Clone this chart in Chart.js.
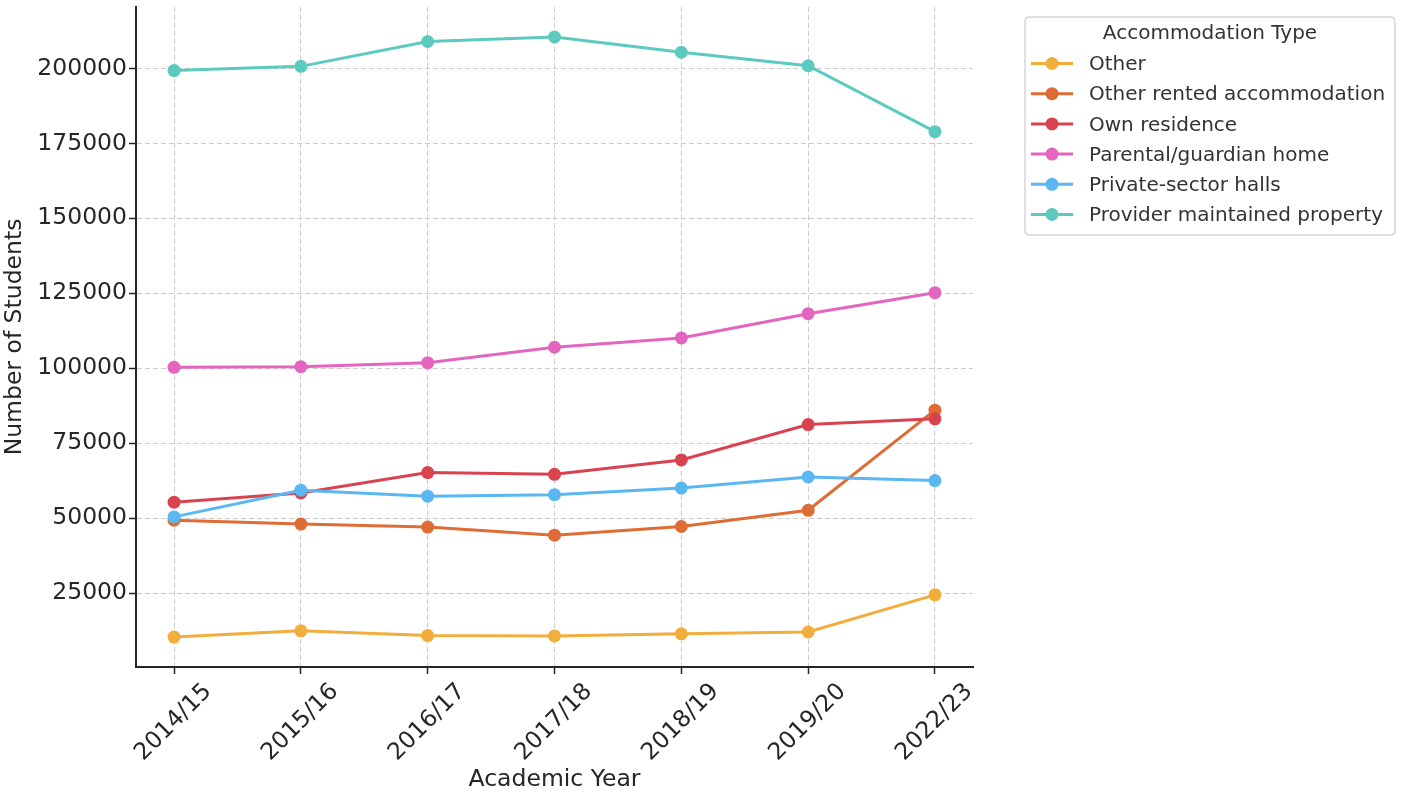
<!DOCTYPE html>
<html>
<head>
<meta charset="utf-8">
<script src="https://cdn.jsdelivr.net/npm/chart.js@4/dist/chart.umd.min.js"></script>
<style>
  html, body { margin: 0; padding: 0; background: #ffffff; }
  #wrap { width: 1408px; height: 802px; position: relative; }
</style>
</head>
<body>
<div id="wrap"><canvas id="c" width="1408" height="802"></canvas></div>
<script>
// ---- data ----
const years = ["2014/15", "2015/16", "2016/17", "2017/18", "2018/19", "2019/20", "2022/23"];
const seriesNames = ["Other", "Other rented accommodation", "Own residence", "Parental/guardian home", "Private-sector halls", "Provider maintained property"];
const otherVals = [10300, 12400, 10800, 10700, 11400, 12000, 24400];
const otherRentedVals = [49300, 48000, 47000, 44300, 47200, 52600, 86000];
const ownResidenceVals = [55300, 58400, 65200, 64600, 69400, 81200, 83100];
const parentalVals = [100300, 100500, 101800, 107000, 110100, 118200, 125200];
const privateHallsVals = [50400, 59300, 57300, 57800, 60000, 63700, 62500];
const providerVals = [199300, 200700, 209000, 210500, 205400, 200900, 178900];
const yTickValues = [25000, 50000, 75000, 100000, 125000, 150000, 175000, 200000];
const legendTitle = "Accommodation Type";
const xTitle = "Academic Year";
const yTitle = "Number of Students";

const seriesValues = [otherVals, otherRentedVals, ownResidenceVals, parentalVals, privateHallsVals, providerVals];
const seriesColors = ["#f1ae3d", "#e06c35", "#d9434f", "#e465c0", "#5bb7f1", "#5ccabf"];

const FONT = "'DejaVu Sans', 'Liberation Sans', sans-serif";
const TEXT = "#262626";

const datasets = seriesNames.map((name, i) => ({
  label: name,
  data: seriesValues[i].map((v, j) => ({ x: j, y: v })),
  borderColor: seriesColors[i],
  backgroundColor: seriesColors[i],
  pointBackgroundColor: seriesColors[i],
  pointBorderColor: seriesColors[i],
  pointBorderWidth: 0,
  pointRadius: 6.5,
  borderWidth: 3,
  tension: 0,
  order: -i,
  clip: false
}));

const legendPlugin = {
  id: 'mplLegend',
  afterDraw(chart) {
    const ctx = chart.ctx;
    const bx = 1025, by = 17, bw = 370, bh = 218, r = 5;
    ctx.save();
    ctx.fillStyle = "rgba(255,255,255,0.9)";
    ctx.strokeStyle = "#d6d6d6";
    ctx.lineWidth = 1.5;
    ctx.beginPath();
    ctx.moveTo(bx + r, by);
    ctx.lineTo(bx + bw - r, by);
    ctx.quadraticCurveTo(bx + bw, by, bx + bw, by + r);
    ctx.lineTo(bx + bw, by + bh - r);
    ctx.quadraticCurveTo(bx + bw, by + bh, bx + bw - r, by + bh);
    ctx.lineTo(bx + r, by + bh);
    ctx.quadraticCurveTo(bx, by + bh, bx, by + bh - r);
    ctx.lineTo(bx, by + r);
    ctx.quadraticCurveTo(bx, by, bx + r, by);
    ctx.closePath();
    ctx.fill();
    ctx.stroke();

    ctx.fillStyle = "#333333";
    ctx.font = "20px " + FONT;
    ctx.textAlign = "center";
    ctx.textBaseline = "middle";
    ctx.fillText(legendTitle, bx + bw / 2, 34);

    ctx.textAlign = "left";
    chart.data.datasets.forEach((ds, i) => {
      const y = 63.5 + i * 30.2;
      ctx.strokeStyle = ds.borderColor;
      ctx.lineWidth = 3;
      ctx.beginPath();
      ctx.moveTo(1031, y);
      ctx.lineTo(1073, y);
      ctx.stroke();
      ctx.fillStyle = ds.borderColor;
      ctx.beginPath();
      ctx.arc(1052, y, 6.5, 0, Math.PI * 2);
      ctx.fill();
      ctx.fillStyle = "#333333";
      ctx.fillText(ds.label, 1089, y + 1.5);
    });
    ctx.restore();
  }
};

const gridOpts = {
  color: "#cccccc",
  lineWidth: 1,
  drawTicks: true,
  tickLength: 7,
  tickColor: "#262626",
  tickWidth: 1.5,
  tickBorderDash: []
};
const borderOpts = { display: true, color: "#262626", width: 2, dash: [5, 3] };

new Chart(document.getElementById('c'), {
  type: 'line',
  data: { datasets },
  plugins: [legendPlugin],
  options: {
    responsive: false,
    animation: false,
    devicePixelRatio: 1,
    layout: { padding: { top: 7, right: 435, left: 0, bottom: 0 } },
    plugins: { legend: { display: false }, tooltip: { enabled: false }, title: { display: false } },
    scales: {
      x: {
        type: 'linear',
        min: -0.3,
        max: 6.3,
        afterFit(scale) { scale.height = 135; },
        afterBuildTicks(scale) { scale.ticks = years.map((_, i) => ({ value: i })); },
        ticks: {
          autoSkip: false,
          maxRotation: 45,
          minRotation: 45,
          labelOffset: 34,
          padding: 4,
          color: TEXT,
          font: { family: FONT, size: 23.5 },
          callback: (v) => years[v]
        },
        grid: gridOpts,
        border: borderOpts,
        title: {
          display: true,
          text: xTitle,
          color: TEXT,
          font: { family: FONT, size: 23.5 },
          padding: { top: 0, bottom: 8 }
        }
      },
      y: {
        type: 'linear',
        min: 325,
        max: 220500,
        afterFit(scale) { scale.width = 136; scale.paddingTop = 0; scale.paddingBottom = 0; },
        afterBuildTicks(scale) { scale.ticks = yTickValues.map(v => ({ value: v })); },
        ticks: {
          color: TEXT,
          padding: 2,
          font: { family: FONT, size: 23.5 },
          callback: (v) => String(v)
        },
        grid: gridOpts,
        border: borderOpts,
        title: {
          display: true,
          text: yTitle,
          color: TEXT,
          font: { family: FONT, size: 23.5 },
          padding: { top: 1, bottom: 0 }
        }
      }
    }
  }
});
</script>
</body>
</html>
